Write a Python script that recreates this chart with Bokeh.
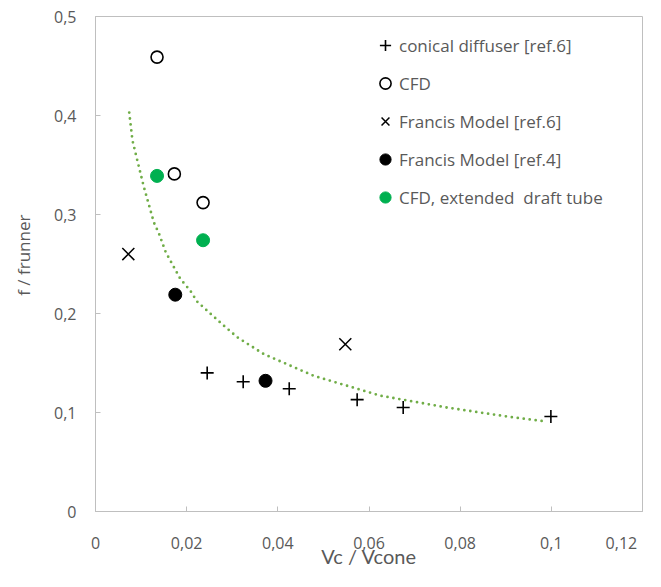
from bokeh.plotting import figure
from bokeh.models import FixedTicker, Range1d, Legend, LegendItem
from bokeh.embed import file_html
from bokeh.resources import INLINE

# ---- data ----
conical_x = [0.0245, 0.0324, 0.0425, 0.0574, 0.0675, 0.0999]
conical_y = [0.140, 0.131, 0.124, 0.113, 0.105, 0.096]

cfd_x = [0.0135, 0.0173, 0.0236]
cfd_y = [0.459, 0.341, 0.312]

francis6_x = [0.0072, 0.0548]
francis6_y = [0.260, 0.169]

francis4_x = [0.0175, 0.0373]
francis4_y = [0.219, 0.132]

cfd_ext_x = [0.0135, 0.0236]
cfd_ext_y = [0.339, 0.274]

trend_x = [0.0074, 0.0081, 0.0091, 0.0106, 0.0128, 0.0139, 0.0154, 0.0186,
           0.0208, 0.0223, 0.0277, 0.0311, 0.0369, 0.0479, 0.0625, 0.0771,
           0.0917, 0.0988]
trend_y = [0.403, 0.375, 0.356, 0.328, 0.292, 0.281, 0.262, 0.235,
           0.223, 0.212, 0.1895, 0.176, 0.159, 0.137, 0.117, 0.105,
           0.095, 0.091]

x_ticks = [0, 0.02, 0.04, 0.06, 0.08, 0.1, 0.12]
x_tick_labels = ["0", "0,02", "0,04", "0,06", "0,08", "0,1", "0,12"]
y_ticks = [0, 0.1, 0.2, 0.3, 0.4, 0.5]
y_tick_labels = ["0", "0,1", "0,2", "0,3", "0,4", "0,5"]

x_title = "Vc / Vcone"
y_title = "f / frunner"

legend_labels = ["conical diffuser [ref.6]", "CFD", "Francis Model [ref.6]",
                 "Francis Model [ref.4]", "CFD, extended  draft tube"]

FONT = "Open Sans"
TITLE_FONT = "Lato"
GRAY_TXT = "#595959"
GRAY_LINE = "#bfbfbf"
NBSP = "\u00a0"

p = figure(width=645, height=571, output_backend="svg", toolbar_location=None,
           x_range=Range1d(0, 0.12), y_range=Range1d(0, 0.5),
           min_border_left=95, min_border_right=3, min_border_top=16,
           min_border_bottom=60)
p.background_fill_color = "white"
p.border_fill_color = "white"
p.outline_line_color = GRAY_LINE
p.outline_line_width = 1
p.xgrid.visible = False
p.ygrid.visible = False

for ax in (p.xaxis[0], p.yaxis[0]):
    ax.axis_line_color = GRAY_LINE
    ax.major_tick_line_color = GRAY_LINE
    ax.major_tick_in = 5
    ax.major_tick_out = 0
    ax.minor_tick_line_color = None
    ax.major_label_text_font = FONT
    ax.major_label_text_font_size = "16px"
    ax.major_label_text_color = GRAY_TXT
    ax.axis_label_text_font = FONT
    ax.axis_label_text_font_style = "normal"
    ax.axis_label_text_color = GRAY_TXT

p.xaxis.ticker = FixedTicker(ticks=x_ticks)
x_over = dict(zip(x_ticks, x_tick_labels))
# keep the last label inside the canvas: pad it on the right
x_over[x_ticks[-1]] = x_tick_labels[-1] + NBSP * 2
p.xaxis.major_label_overrides = x_over
p.yaxis.ticker = FixedTicker(ticks=y_ticks)
p.yaxis.major_label_overrides = dict(zip(y_ticks, y_tick_labels))
p.xaxis.major_label_standoff = 20
p.yaxis.major_label_standoff = 19

p.xaxis.axis_label = x_title
p.xaxis.axis_label_text_font = TITLE_FONT
p.xaxis.axis_label_text_font_size = "20px"
p.xaxis.axis_label_standoff = -13
p.yaxis.axis_label = NBSP * 4 + y_title
p.yaxis.axis_label_text_font_size = "17px"
p.yaxis.axis_label_standoff = 16

# trend line
p.line(trend_x, trend_y, line_color="#70ad47", line_width=2.8,
       line_dash="0 6", line_cap="round")

r1 = p.scatter(conical_x, conical_y, marker="cross", size=13,
               line_color="black", line_width=1.6)
r2 = p.scatter(cfd_x, cfd_y, marker="circle", size=12, fill_color=None,
               line_color="black", line_width=1.6)
r3 = p.scatter(francis6_x, francis6_y, marker="x", size=17,
               line_color="black", line_width=1.5)
r4 = p.scatter(francis4_x, francis4_y, marker="circle", size=13,
               fill_color="black", line_color="black")
r5 = p.scatter(cfd_ext_x, cfd_ext_y, marker="circle", size=13,
               fill_color="#00b050", line_color="#00b050")

legend = Legend(items=[LegendItem(label=l, renderers=[r])
                       for l, r in zip(legend_labels, [r1, r2, r3, r4, r5])],
                location=(276, 295))
legend.border_line_color = None
legend.background_fill_alpha = 0
legend.padding = 0
legend.margin = 0
legend.spacing = 0
legend.glyph_width = 28
legend.glyph_height = 38
legend.label_height = 38
legend.label_standoff = 0
legend.label_text_font = FONT
legend.label_text_font_size = "17px"
legend.label_text_color = GRAY_TXT
p.add_layout(legend, "center")

open("out.html", "w").write(file_html(p, INLINE))
